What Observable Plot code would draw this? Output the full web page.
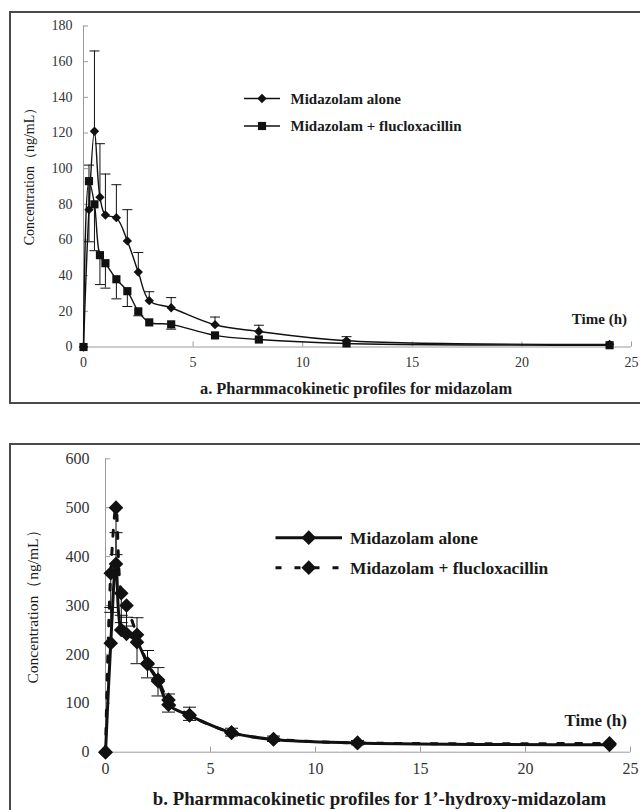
<!DOCTYPE html>
<html><head><meta charset="utf-8">
<script src="https://cdn.jsdelivr.net/npm/d3@7"></script>
<script src="https://cdn.jsdelivr.net/npm/@observablehq/plot@0.6"></script>
<style>
body{margin:0;background:#fff;}
#page{position:relative;width:640px;height:810px;overflow:hidden;font-family:'Liberation Serif','Times New Roman',Times,'DejaVu Serif',serif;}
.panel{position:absolute;left:0;}
.frame{position:absolute;border:2px solid #4a4a4a;box-sizing:border-box;}
#overlay{position:absolute;left:0;top:0;pointer-events:none;}
</style></head><body><div id="page"></div>
<script>
// ---------- data ----------
const times = [0, 0.25, 0.5, 0.75, 1, 1.5, 2, 2.5, 3, 4, 6, 8, 12, 24];
const xTicks = [0, 5, 10, 15, 20, 25];
const yTicksA = [0, 20, 40, 60, 80, 100, 120, 140, 160, 180];
const yTicksB = [0, 100, 200, 300, 400, 500, 600];
const seriesNames = ["Midazolam alone", "Midazolam + flucloxacillin"];

// panel a: midazolam (ng/mL)
const midAlone    = [0, 77, 121, 84, 74, 72.5, 59.5, 42, 26, 22, 12.5, 8.7, 3.5, 1.5];
const midAloneUp  = [null, 102, 166, 114, 97, 91, 77, 53, 31, 27.7, 16.8, 12.2, 5.8, null];
const midFlu      = [0, 93, 80, 51.5, 47, 38, 31.3, 20, 13.8, 12.7, 6.5, 4.2, 2, 1];
const midFluLo    = [null, 59, 54, 35, 33, 27, 22.7, 17.5, null, 10, null, null, null, null];

// panel b: 1'-hydroxy-midazolam (ng/mL)
const hydAlone    = [0, 223, 385, 250, 242, 225, 180, 145, 97, 75, 40, 26, 19, 15];
const hydAloneUp  = [null, 296, 449, 280, 276, 275, 208, 173, 119, 92, 49, 33, 24, null];
const hydFlu      = [0, 366, 500, 325, 300, 240, 182, 148, 107, 76, 40, 27, 19, 18];
const hydFluLo    = [null, 286, 404, 265, 258, 181, 152, 115, 82, 65, 33, 22, 15, null];

// ---------- helpers ----------
const rows = (vals, err) => times.map((t, i) => ({t, v: vals[i], e: err[i]}));
const capSymbol = {draw(ctx, size) { const r = Math.sqrt(size / Math.PI); ctx.moveTo(-r, 0); ctx.lineTo(r, 0); }};
const FONT = "'Liberation Serif','Times New Roman',Times,'DejaVu Serif',serif";
const INK = "#111";
const AXIS = "#9a9a9a";

function seriesMarks(data, {symbol, r, width, dash, capR}) {
  const withErr = data.filter(d => d.e != null);
  return [
    Plot.ruleX(withErr, {x: "t", y1: "v", y2: "e", stroke: INK, strokeWidth: 1}),
    Plot.dot(withErr, {x: "t", y: "e", symbol: capSymbol, r: capR, stroke: INK, strokeWidth: 1, fill: "none"}),
    Plot.line(data, {x: "t", y: "v", curve: "catmull-rom", stroke: INK, strokeWidth: width, strokeDasharray: dash}),
    Plot.dot(data, {x: "t", y: "v", symbol, r, fill: INK, stroke: "none"})
  ];
}

function makePanel(cfg) {
  const plotW = cfg.width - cfg.marginLeft - cfg.marginRight;
  const plotH = cfg.height - cfg.marginTop - cfg.marginBottom;
  return Plot.plot({
    width: cfg.width, height: cfg.height,
    marginTop: cfg.marginTop, marginBottom: cfg.marginBottom,
    marginLeft: cfg.marginLeft, marginRight: cfg.marginRight,
    x: {domain: [0, 25]},
    y: {domain: cfg.yDomain},
    style: {fontFamily: FONT, fontSize: cfg.tickFont + "px", color: "#333", background: "transparent", overflow: "visible"},
    marks: [
      Plot.ruleX([0], {stroke: AXIS, strokeWidth: 1}),
      Plot.ruleY([0], {stroke: AXIS, strokeWidth: 1}),
      Plot.tickY(cfg.yTicks, {y: d => d, stroke: AXIS, insetRight: plotW - 5}),
      Plot.tickX(xTicks, {x: d => d, stroke: AXIS, insetTop: plotH - 5}),
      Plot.axisY(cfg.yTicks, {tickSize: 0, tickPadding: cfg.yPad, label: null, fontSize: cfg.tickFont}),
      Plot.axisX(xTicks, {tickSize: 0, tickPadding: cfg.xPad, label: null, fontSize: cfg.tickFont}),
      ...cfg.series.flatMap(s => seriesMarks(s.data, s.style))
    ]
  });
}

const page = document.getElementById("page");

// frames
function frame(left, top, w, h) {
  const d = document.createElement("div");
  d.className = "frame";
  Object.assign(d.style, {left: left + "px", top: top + "px", width: w + "px", height: h + "px"});
  page.appendChild(d);
}
frame(9, 11, 640, 393);
frame(9, 443, 640, 400);

// panel a
const a = makePanel({
  width: 640, height: 405, marginTop: 25.5, marginBottom: 58.5, marginLeft: 83, marginRight: 9,
  yDomain: [0, 180], yTicks: yTicksA, tickFont: 14, yPad: 11, xPad: 10,
  series: [
    {data: rows(midAlone, midAloneUp), style: {symbol: "diamond2", r: 4.2, width: 1.4, dash: null, capR: 5}},
    {data: rows(midFlu, midFluLo), style: {symbol: "square", r: 4.6, width: 1.4, dash: null, capR: 5}}
  ]
});
a.classList.add("panel"); a.style.top = "0px";
page.appendChild(a);

// panel b
const b = makePanel({
  width: 640, height: 405, marginTop: 53.3, marginBottom: 58.3, marginLeft: 105, marginRight: 10,
  yDomain: [0, 600], yTicks: yTicksB, tickFont: 16, yPad: 16, xPad: 10,
  series: [
    {data: rows(hydFlu, hydFluLo), style: {symbol: "diamond2", r: 6.6, width: 3, dash: "6,12", capR: 6.5}},
    {data: rows(hydAlone, hydAloneUp), style: {symbol: "diamond2", r: 6.6, width: 3, dash: null, capR: 6.5}}
  ]
});
b.classList.add("panel"); b.style.top = "405px";
page.appendChild(b);

// ---------- overlay text & legends ----------
const svg = d3.select(page).append("svg").attr("id", "overlay").attr("width", 640).attr("height", 810)
  .style("font-family", FONT);

function label(x, y, text, size, weight, anchor = "start", rotate = 0) {
  svg.append("text").attr("transform", `translate(${x},${y}) rotate(${rotate})`)
    .attr("text-anchor", anchor).attr("dy", "0.35em")
    .attr("font-size", size).attr("font-weight", weight).attr("fill", "#1a1a1a").text(text);
}
function legendRow(x1, x2, y, symbolType, symSize, width, dash, text, tx, fsize) {
  svg.append("line").attr("x1", x1).attr("x2", x2).attr("y1", y).attr("y2", y)
    .attr("stroke", INK).attr("stroke-width", width).attr("stroke-dasharray", dash);
  svg.append("path").attr("d", d3.symbol(symbolType, symSize)()).attr("transform", `translate(${(x1 + x2) / 2},${y})`).attr("fill", INK);
  label(tx, y, text, fsize, "bold");
}

// panel a texts
legendRow(244, 280, 98.5, d3.symbolDiamond2, Math.PI * 4.2 * 4.2, 1.4, null, seriesNames[0], 290.5, 15);
legendRow(244, 280, 126, d3.symbolSquare, Math.PI * 4.6 * 4.6, 1.4, null, seriesNames[1], 290.5, 15);
label(627, 319, "Time (h)", 15, "bold", "end");
label(356, 388, "a. Pharmmacokinetic profiles for midazolam", 16.4, "bold", "middle");
label(28.6, 173, "Concentration（ng/mL）", 14, "normal", "middle", -90);

// panel b texts
legendRow(275.5, 342, 537.7, d3.symbolDiamond2, Math.PI * 6.6 * 6.6, 3, null, seriesNames[0], 350, 17.4);
legendRow(275.5, 342, 567.7, d3.symbolDiamond2, Math.PI * 6.6 * 6.6, 3, "6,13", seriesNames[1], 350, 17.4);
label(627, 720, "Time (h)", 17, "bold", "end");
label(379.5, 798, "b. Pharmmacokinetic profiles for 1’-hydroxy-midazolam", 18.8, "bold", "middle");
label(32.6, 603, "Concentration（ng/mL）", 15.5, "normal", "middle", -90);
</script>
</body></html>
